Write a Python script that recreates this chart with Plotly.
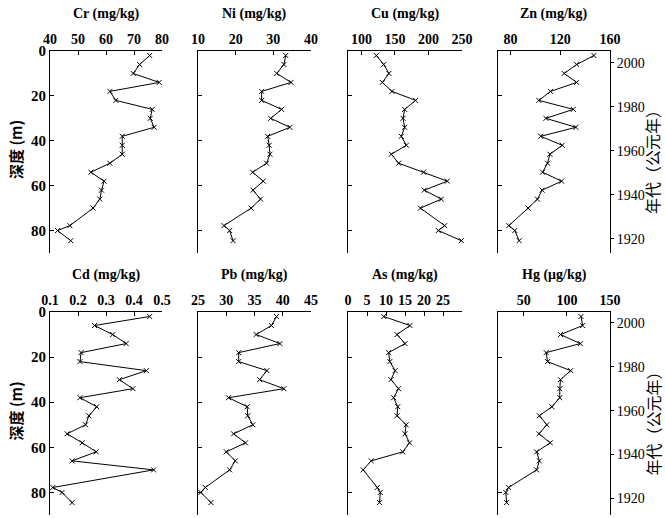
import plotly.graph_objects as go

depth = [2, 6, 10, 14, 18, 22, 26, 30, 34, 38, 42, 46, 50, 54, 58, 62, 66, 70, 77.8, 80, 84.5]

Cr = [75.6, 72.0, 69.7, 79.0, 61.4, 63.5, 76.5, 75.8, 77.2, 65.8, 65.8, 65.8, 61.4, 54.6, 59.3, 58.4, 57.8, 55.4, 47.1, 42.7, 47.4]
Ni = [33.3, 32.8, 30.9, 34.7, 26.9, 26.9, 32.2, 29.3, 34.4, 28.5, 28.9, 29.1, 28.2, 24.5, 27.3, 24.6, 26.6, 24.1, 16.9, 18.4, 19.3]
Cu = [122.3, 133.2, 141.1, 131.2, 145.6, 180.9, 164.5, 162.0, 164.5, 159.5, 167.0, 144.6, 155.6, 192.8, 228.1, 193.8, 219.2, 187.9, 224.2, 214.7, 249.0]
Zn = [147.1, 133.2, 123.2, 133.2, 112.2, 102.8, 130.5, 108.5, 132.6, 104.4, 121.6, 111.7, 109.8, 105.8, 121.1, 105.5, 101.7, 94.2, 78.7, 83.5, 87.0]
Cd = [0.456, 0.259, 0.324, 0.372, 0.211, 0.207, 0.444, 0.348, 0.396, 0.207, 0.267, 0.239, 0.227, 0.161, 0.215, 0.265, 0.179, 0.470, 0.110, 0.143, 0.179]
Pb = [38.9, 38.0, 35.3, 39.5, 32.2, 32.2, 37.2, 35.9, 40.2, 30.4, 33.7, 33.8, 34.7, 31.3, 33.4, 30.0, 31.6, 30.6, 26.3, 25.5, 27.3]
As = [9.4, 16.3, 12.9, 15.0, 10.7, 11.0, 12.4, 11.3, 13.3, 12.0, 13.1, 12.9, 15.3, 15.0, 16.2, 14.4, 6.1, 4.0, 7.7, 8.5, 8.3]
Hg = [116.3, 118.3, 92.5, 115.5, 75.9, 77.5, 104.4, 92.5, 91.7, 91.7, 82.6, 68.0, 76.7, 67.6, 80.6, 64.8, 68.0, 64.8, 32.3, 29.1, 30.0]

titles = ["Cr (mg/kg)", "Ni (mg/kg)", "Cu (mg/kg)", "Zn (mg/kg)",
          "Cd (mg/kg)", "Pb (mg/kg)", "As (mg/kg)", "Hg (μg/kg)"]
series = [Cr, Ni, Cu, Zn, Cd, Pb, As, Hg]
xranges = [[40, 80], [10, 40], [80, 250], [70, 160],
           [0.1, 0.5], [25, 45], [0, 30], [20, 150]]
xticks = [[40, 50, 60, 70, 80], [10, 20, 30, 40], [100, 150, 200, 250], [80, 120, 160],
          [0.1, 0.2, 0.3, 0.4, 0.5], [25, 30, 35, 40, 45], [0, 5, 10, 15, 20, 25], [50, 100, 150]]
depth_ticks = [0, 20, 40, 60, 80]
year_ticks = [1920, 1940, 1960, 1980, 2000]
depth_label = "深度 (m)"
year_label = "年代（公元年）"

W, H = 665, 518
cols_px = [(50, 162), (198, 311), (348, 462), (498, 610)]
rows_px = [(51, 253), (312, 515)]

FONT = "Liberation Serif, Noto Sans CJK SC, serif"

fig = go.Figure()
layout = dict(width=W, height=H, margin=dict(l=0, r=0, t=0, b=0),
              paper_bgcolor="white", plot_bgcolor="white", showlegend=False,
              font=dict(family=FONT, color="black", size=14))
annotations = []

for i in range(8):
    r, c = divmod(i, 4)
    x0, x1 = cols_px[c]
    y0, y1 = rows_px[r]
    xa = "xaxis" + ("" if i == 0 else str(i + 1))
    ya = "yaxis" + ("" if i == 0 else str(i + 1))
    xref = "x" + ("" if i == 0 else str(i + 1))
    yref = "y" + ("" if i == 0 else str(i + 1))
    fig.add_trace(go.Scatter(
        x=series[i], y=depth, xaxis=xref, yaxis=yref, mode="lines+markers",
        line=dict(color="black", width=1),
        marker=dict(symbol="x-thin", size=5, line=dict(color="black", width=1)),
        cliponaxis=False, hoverinfo="skip"))
    layout[xa] = dict(domain=[x0 / W, x1 / W], range=xranges[i], side="top",
                      anchor=yref, tickvals=xticks[i],
                      ticktext=[str(v) for v in xticks[i]],
                      ticks="inside", ticklen=4, tickwidth=1, tickcolor="black",
                      showline=True, linecolor="black", linewidth=1,
                      showgrid=False, zeroline=False, automargin=False,
                      tickfont=dict(size=14, family=FONT, weight="bold"))
    layout[ya] = dict(domain=[1 - y1 / H, 1 - y0 / H], range=[90, 0],
                      anchor=xref, tickvals=depth_ticks,
                      showticklabels=(c == 0),
                      ticks="inside", ticklen=4, tickwidth=1, tickcolor="black",
                      showline=True, linecolor="black", linewidth=1,
                      showgrid=False, zeroline=False, automargin=False,
                      tickfont=dict(size=15, family=FONT, weight="bold"))
    annotations.append(dict(text=titles[i], xref="paper", yref="paper",
                            x=(x0 + x1) / 2 / W, y=1 - (y0 - 37) / H,
                            showarrow=False, xanchor="center", yanchor="middle",
                            font=dict(size=14, family=FONT, weight="bold")))
    if c == 0:
        annotations.append(dict(text=depth_label, xref="paper", yref="paper",
                                x=15 / W, y=1 - ((y0 + y1) / 2 - 2) / H, textangle=-90,
                                showarrow=False, xanchor="center", yanchor="middle",
                                font=dict(size=15, family="Noto Sans CJK SC", weight="bold")))
    if c == 3:
        yi = 9 + r
        yrng = [1913.6, 2005.3] if r == 0 else [1912.4, 2005.0]
        fig.add_trace(go.Scatter(x=[None], y=[None], xaxis=xref, yaxis="y%d" % yi,
                                 mode="lines", hoverinfo="skip"))
        layout["yaxis%d" % yi] = dict(domain=[1 - y1 / H, 1 - y0 / H], range=yrng,
                                      overlaying=yref, side="right", anchor=xref,
                                      tickvals=year_ticks,
                                      ticks="outside", ticklen=3, tickwidth=1, tickcolor="black",
                                      showline=True, linecolor="black", linewidth=1,
                                      showgrid=False, zeroline=False, automargin=False,
                                      tickfont=dict(size=14, family=FONT))
        annotations.append(dict(text=year_label, xref="paper", yref="paper",
                                x=652 / W, y=1 - ((y0 + y1) / 2 + 6) / H, textangle=-90,
                                showarrow=False, xanchor="center", yanchor="middle",
                                font=dict(size=16, family="Noto Sans CJK SC")))

layout["annotations"] = annotations
fig.update_layout(**layout)
fig.write_html("out.html", config={"displayModeBar": False},
               post_script="document.body.style.margin='0';document.body.style.overflow='hidden';")
